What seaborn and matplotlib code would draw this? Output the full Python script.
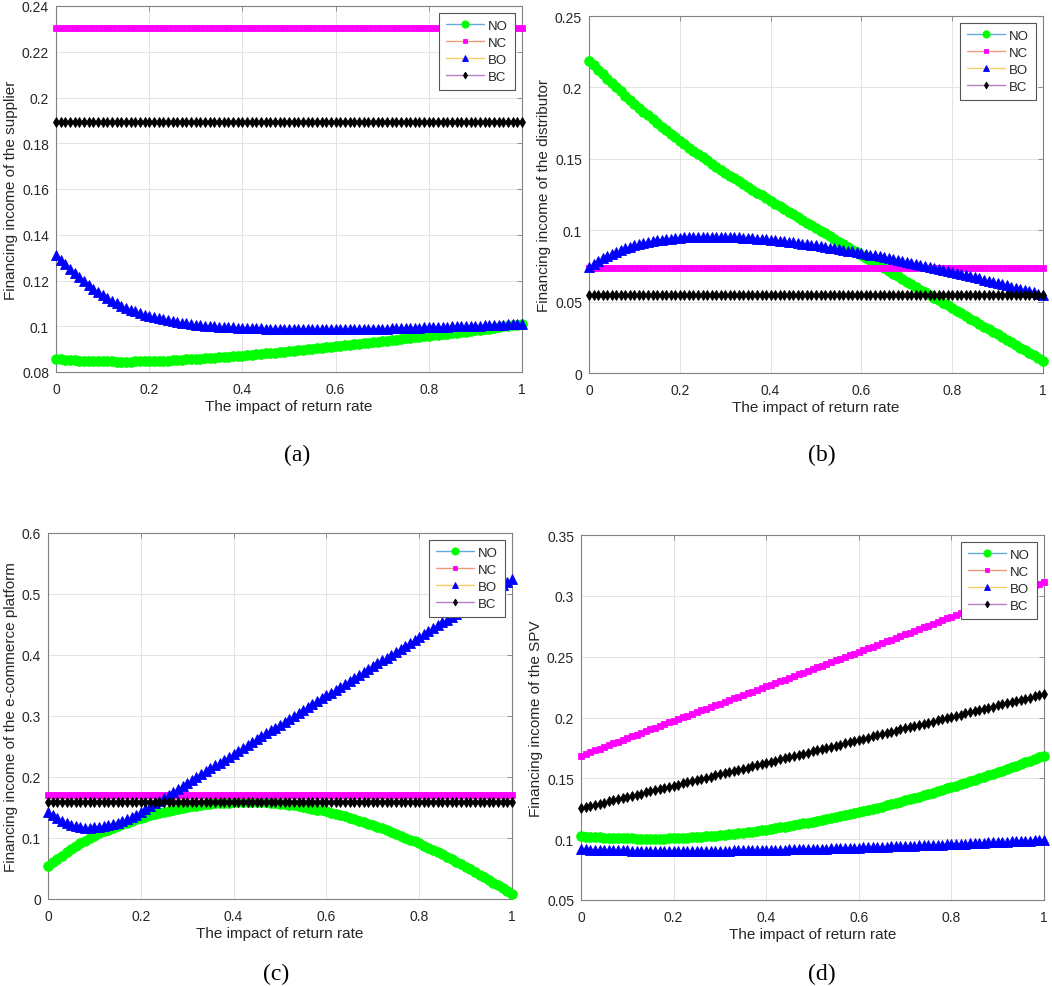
import numpy as np
import matplotlib
matplotlib.use("Agg")
import matplotlib.pyplot as plt
from matplotlib.ticker import FixedLocator, FuncFormatter
import seaborn as sns

# ---------------- data ----------------
x = np.linspace(0, 1, 101)          # impact of return rate, 0.00 ... 1.00
series_labels = ["NO", "NC", "BO", "BC"]
x_ticks = [0, 0.2, 0.4, 0.6, 0.8, 1.0]

# panel (a): supplier
a_NO = [0.0856, 0.0855, 0.0854, 0.0852, 0.0851, 0.0850, 0.0849, 0.0848, 0.0848, 0.0847,
        0.0846, 0.0846, 0.0846, 0.0845, 0.0845, 0.0845, 0.0845, 0.0846, 0.0846, 0.0847,
        0.0847, 0.0848, 0.0849, 0.0849, 0.0850, 0.0851, 0.0852, 0.0853, 0.0855, 0.0856,
        0.0857, 0.0858, 0.0860, 0.0861, 0.0863, 0.0864, 0.0866, 0.0867, 0.0869, 0.0870,
        0.0872, 0.0874, 0.0876, 0.0877, 0.0879, 0.0881, 0.0883, 0.0885, 0.0887, 0.0889,
        0.0891, 0.0893, 0.0895, 0.0897, 0.0899, 0.0901, 0.0903, 0.0905, 0.0908, 0.0910,
        0.0912, 0.0914, 0.0916, 0.0919, 0.0921, 0.0923, 0.0925, 0.0928, 0.0930, 0.0933,
        0.0935, 0.0937, 0.0940, 0.0942, 0.0945, 0.0947, 0.0949, 0.0951, 0.0954, 0.0956,
        0.0958, 0.0960, 0.0963, 0.0965, 0.0968, 0.0970, 0.0972, 0.0975, 0.0977, 0.0980,
        0.0982, 0.0985, 0.0988, 0.0990, 0.0993, 0.0996, 0.0999, 0.1002, 0.1004, 0.1007,
        0.1010]
a_NC = 0.2303
a_BO = [0.1310, 0.1290, 0.1270, 0.1251, 0.1233, 0.1215, 0.1198, 0.1181, 0.1165, 0.1150,
        0.1135, 0.1123, 0.1111, 0.1100, 0.1090, 0.1080, 0.1072, 0.1065, 0.1058, 0.1051,
        0.1045, 0.1040, 0.1035, 0.1031, 0.1026, 0.1022, 0.1019, 0.1016, 0.1013, 0.1010,
        0.1007, 0.1005, 0.1003, 0.1002, 0.1000, 0.0998, 0.0997, 0.0996, 0.0995, 0.0994,
        0.0993, 0.0992, 0.0992, 0.0991, 0.0991, 0.0990, 0.0990, 0.0990, 0.0989, 0.0989,
        0.0988, 0.0988, 0.0988, 0.0988, 0.0987, 0.0987, 0.0987, 0.0987, 0.0987, 0.0987,
        0.0987, 0.0987, 0.0987, 0.0988, 0.0988, 0.0988, 0.0988, 0.0989, 0.0989, 0.0989,
        0.0990, 0.0990, 0.0991, 0.0991, 0.0992, 0.0993, 0.0993, 0.0994, 0.0994, 0.0995,
        0.0996, 0.0996, 0.0997, 0.0997, 0.0998, 0.0999, 0.0999, 0.1000, 0.1001, 0.1001,
        0.1002, 0.1003, 0.1004, 0.1004, 0.1005, 0.1006, 0.1007, 0.1008, 0.1008, 0.1009,
        0.1010]
a_BC = 0.1893

# panel (b): distributor
b_NO = [0.2186, 0.2155, 0.2124, 0.2092, 0.2061, 0.2030, 0.2001, 0.1972, 0.1943, 0.1914,
        0.1885, 0.1858, 0.1831, 0.1804, 0.1777, 0.1750, 0.1725, 0.1700, 0.1675, 0.1650,
        0.1625, 0.1602, 0.1579, 0.1556, 0.1533, 0.1510, 0.1489, 0.1467, 0.1446, 0.1424,
        0.1403, 0.1383, 0.1363, 0.1342, 0.1322, 0.1302, 0.1283, 0.1263, 0.1244, 0.1224,
        0.1205, 0.1186, 0.1167, 0.1148, 0.1129, 0.1110, 0.1091, 0.1072, 0.1053, 0.1034,
        0.1015, 0.0996, 0.0977, 0.0958, 0.0939, 0.0920, 0.0901, 0.0882, 0.0864, 0.0845,
        0.0826, 0.0807, 0.0789, 0.0770, 0.0752, 0.0733, 0.0714, 0.0696, 0.0677, 0.0659,
        0.0640, 0.0621, 0.0603, 0.0584, 0.0566, 0.0547, 0.0528, 0.0510, 0.0491, 0.0473,
        0.0454, 0.0436, 0.0417, 0.0399, 0.0380, 0.0362, 0.0344, 0.0325, 0.0307, 0.0288,
        0.0270, 0.0252, 0.0233, 0.0215, 0.0196, 0.0178, 0.0160, 0.0141, 0.0123, 0.0104,
        0.0086]
b_NC = 0.0737
b_BO = [0.0745, 0.0766, 0.0786, 0.0803, 0.0820, 0.0835, 0.0848, 0.0861, 0.0872, 0.0883,
        0.0893, 0.0901, 0.0909, 0.0916, 0.0922, 0.0928, 0.0932, 0.0936, 0.0940, 0.0944,
        0.0947, 0.0949, 0.0951, 0.0953, 0.0954, 0.0955, 0.0955, 0.0955, 0.0955, 0.0954,
        0.0954, 0.0953, 0.0951, 0.0950, 0.0948, 0.0946, 0.0944, 0.0941, 0.0939, 0.0936,
        0.0933, 0.0929, 0.0925, 0.0922, 0.0918, 0.0914, 0.0910, 0.0906, 0.0902, 0.0897,
        0.0893, 0.0888, 0.0883, 0.0878, 0.0873, 0.0868, 0.0863, 0.0857, 0.0852, 0.0846,
        0.0841, 0.0835, 0.0829, 0.0824, 0.0818, 0.0812, 0.0806, 0.0799, 0.0793, 0.0786,
        0.0780, 0.0773, 0.0766, 0.0759, 0.0752, 0.0745, 0.0738, 0.0731, 0.0723, 0.0716,
        0.0709, 0.0701, 0.0693, 0.0686, 0.0678, 0.0670, 0.0662, 0.0654, 0.0646, 0.0638,
        0.0630, 0.0622, 0.0614, 0.0605, 0.0597, 0.0589, 0.0581, 0.0573, 0.0564, 0.0556,
        0.0548]
b_BC = 0.0547

# panel (c): e-commerce platform
c_NO = [0.0540, 0.0600, 0.0657, 0.0713, 0.0767, 0.0820, 0.0867, 0.0913, 0.0957, 0.0999,
        0.1040, 0.1074, 0.1107, 0.1139, 0.1170, 0.1200, 0.1227, 0.1253, 0.1279, 0.1305,
        0.1330, 0.1351, 0.1371, 0.1391, 0.1411, 0.1430, 0.1447, 0.1463, 0.1479, 0.1495,
        0.1510, 0.1521, 0.1531, 0.1541, 0.1551, 0.1560, 0.1566, 0.1571, 0.1576, 0.1581,
        0.1585, 0.1587, 0.1588, 0.1589, 0.1590, 0.1590, 0.1587, 0.1583, 0.1578, 0.1572,
        0.1565, 0.1556, 0.1546, 0.1535, 0.1523, 0.1510, 0.1496, 0.1481, 0.1466, 0.1451,
        0.1435, 0.1416, 0.1396, 0.1375, 0.1353, 0.1330, 0.1307, 0.1283, 0.1259, 0.1235,
        0.1210, 0.1183, 0.1156, 0.1128, 0.1099, 0.1070, 0.1039, 0.1007, 0.0975, 0.0943,
        0.0910, 0.0875, 0.0840, 0.0803, 0.0767, 0.0730, 0.0691, 0.0651, 0.0611, 0.0571,
        0.0530, 0.0487, 0.0443, 0.0399, 0.0355, 0.0310, 0.0266, 0.0222, 0.0178, 0.0134,
        0.0090]
c_NC = 0.1705
c_BO = [0.1430, 0.1373, 0.1322, 0.1279, 0.1243, 0.1214, 0.1193, 0.1178, 0.1171, 0.1171,
        0.1174, 0.1182, 0.1194, 0.1209, 0.1228, 0.1251, 0.1278, 0.1309, 0.1343, 0.1382,
        0.1424, 0.1470, 0.1518, 0.1566, 0.1614, 0.1662, 0.1710, 0.1758, 0.1806, 0.1854,
        0.1902, 0.1950, 0.1998, 0.2045, 0.2093, 0.2141, 0.2189, 0.2237, 0.2285, 0.2332,
        0.2380, 0.2428, 0.2476, 0.2524, 0.2572, 0.2619, 0.2667, 0.2715, 0.2763, 0.2811,
        0.2859, 0.2906, 0.2954, 0.3002, 0.3050, 0.3098, 0.3146, 0.3193, 0.3241, 0.3289,
        0.3337, 0.3385, 0.3433, 0.3480, 0.3528, 0.3576, 0.3624, 0.3672, 0.3720, 0.3767,
        0.3815, 0.3863, 0.3911, 0.3959, 0.4007, 0.4054, 0.4102, 0.4150, 0.4198, 0.4246,
        0.4294, 0.4341, 0.4389, 0.4437, 0.4485, 0.4533, 0.4581, 0.4628, 0.4676, 0.4724,
        0.4772, 0.4820, 0.4868, 0.4915, 0.4963, 0.5011, 0.5059, 0.5107, 0.5155, 0.5202,
        0.5250]
c_BC = 0.1585

# panel (d): SPV
d_NO = [0.1022, 0.1020, 0.1018, 0.1017, 0.1015, 0.1013, 0.1012, 0.1011, 0.1009, 0.1008,
        0.1007, 0.1006, 0.1005, 0.1005, 0.1004, 0.1004, 0.1004, 0.1005, 0.1005, 0.1006,
        0.1007, 0.1009, 0.1011, 0.1012, 0.1014, 0.1016, 0.1019, 0.1022, 0.1026, 0.1029,
        0.1032, 0.1036, 0.1040, 0.1045, 0.1049, 0.1053, 0.1058, 0.1063, 0.1069, 0.1074,
        0.1079, 0.1085, 0.1091, 0.1097, 0.1103, 0.1109, 0.1116, 0.1123, 0.1129, 0.1136,
        0.1143, 0.1151, 0.1158, 0.1166, 0.1173, 0.1181, 0.1189, 0.1197, 0.1206, 0.1214,
        0.1222, 0.1231, 0.1240, 0.1250, 0.1259, 0.1268, 0.1278, 0.1288, 0.1298, 0.1308,
        0.1318, 0.1329, 0.1340, 0.1350, 0.1361, 0.1372, 0.1383, 0.1394, 0.1406, 0.1417,
        0.1428, 0.1440, 0.1452, 0.1464, 0.1476, 0.1488, 0.1501, 0.1513, 0.1526, 0.1538,
        0.1551, 0.1564, 0.1578, 0.1591, 0.1605, 0.1618, 0.1632, 0.1646, 0.1659, 0.1673,
        0.1687]
d_NC = [0.1685, 0.1700, 0.1714, 0.1729, 0.1743, 0.1758, 0.1772, 0.1787, 0.1801, 0.1816,
        0.1830, 0.1844, 0.1859, 0.1873, 0.1888, 0.1902, 0.1916, 0.1931, 0.1945, 0.1960,
        0.1974, 0.1988, 0.2002, 0.2016, 0.2030, 0.2045, 0.2059, 0.2073, 0.2087, 0.2101,
        0.2115, 0.2129, 0.2143, 0.2157, 0.2171, 0.2185, 0.2199, 0.2213, 0.2227, 0.2241,
        0.2255, 0.2269, 0.2283, 0.2298, 0.2312, 0.2326, 0.2340, 0.2354, 0.2369, 0.2383,
        0.2397, 0.2411, 0.2426, 0.2440, 0.2454, 0.2469, 0.2483, 0.2497, 0.2511, 0.2526,
        0.2540, 0.2554, 0.2569, 0.2583, 0.2597, 0.2612, 0.2626, 0.2640, 0.2654, 0.2669,
        0.2683, 0.2698, 0.2712, 0.2727, 0.2741, 0.2756, 0.2770, 0.2785, 0.2799, 0.2814,
        0.2828, 0.2842, 0.2857, 0.2871, 0.2886, 0.2900, 0.2914, 0.2929, 0.2943, 0.2958,
        0.2972, 0.2986, 0.3001, 0.3015, 0.3029, 0.3044, 0.3058, 0.3072, 0.3086, 0.3101,
        0.3115]
d_BO = [0.0918, 0.0917, 0.0915, 0.0914, 0.0913, 0.0912, 0.0911, 0.0910, 0.0909, 0.0908,
        0.0907, 0.0906, 0.0906, 0.0905, 0.0905, 0.0904, 0.0904, 0.0904, 0.0903, 0.0903,
        0.0903, 0.0903, 0.0903, 0.0903, 0.0904, 0.0904, 0.0904, 0.0904, 0.0905, 0.0905,
        0.0905, 0.0906, 0.0906, 0.0907, 0.0907, 0.0908, 0.0909, 0.0909, 0.0910, 0.0910,
        0.0911, 0.0912, 0.0913, 0.0914, 0.0915, 0.0916, 0.0916, 0.0917, 0.0918, 0.0919,
        0.0920, 0.0921, 0.0922, 0.0923, 0.0924, 0.0926, 0.0927, 0.0928, 0.0929, 0.0930,
        0.0931, 0.0932, 0.0934, 0.0935, 0.0936, 0.0938, 0.0939, 0.0940, 0.0941, 0.0943,
        0.0944, 0.0946, 0.0947, 0.0949, 0.0950, 0.0952, 0.0953, 0.0955, 0.0956, 0.0958,
        0.0959, 0.0961, 0.0962, 0.0964, 0.0966, 0.0968, 0.0969, 0.0971, 0.0973, 0.0974,
        0.0976, 0.0978, 0.0980, 0.0982, 0.0984, 0.0986, 0.0987, 0.0989, 0.0991, 0.0993,
        0.0995]
d_BC = [0.1255, 0.1264, 0.1273, 0.1283, 0.1292, 0.1301, 0.1310, 0.1319, 0.1329, 0.1338,
        0.1347, 0.1356, 0.1366, 0.1375, 0.1384, 0.1394, 0.1403, 0.1412, 0.1421, 0.1431,
        0.1440, 0.1449, 0.1459, 0.1468, 0.1477, 0.1487, 0.1496, 0.1505, 0.1514, 0.1524,
        0.1533, 0.1542, 0.1552, 0.1561, 0.1571, 0.1580, 0.1589, 0.1599, 0.1608, 0.1618,
        0.1627, 0.1636, 0.1646, 0.1655, 0.1665, 0.1674, 0.1683, 0.1693, 0.1702, 0.1712,
        0.1721, 0.1731, 0.1740, 0.1750, 0.1759, 0.1769, 0.1778, 0.1788, 0.1797, 0.1807,
        0.1816, 0.1826, 0.1835, 0.1845, 0.1854, 0.1864, 0.1873, 0.1883, 0.1892, 0.1902,
        0.1911, 0.1920, 0.1930, 0.1939, 0.1949, 0.1958, 0.1967, 0.1977, 0.1986, 0.1996,
        0.2005, 0.2014, 0.2024, 0.2033, 0.2043, 0.2052, 0.2061, 0.2071, 0.2080, 0.2090,
        0.2099, 0.2108, 0.2118, 0.2127, 0.2136, 0.2146, 0.2155, 0.2164, 0.2173, 0.2183,
        0.2192]

y_labels = ["Financing income of the supplier",
            "Financing income of the distributor",
            "Financing income of the e-commerce platform",
            "Financing income of the SPV"]
y_ticks_a = [0.08, 0.10, 0.12, 0.14, 0.16, 0.18, 0.20, 0.22, 0.24]
y_ticks_b = [0, 0.05, 0.10, 0.15, 0.20, 0.25]
y_ticks_c = [0, 0.1, 0.2, 0.3, 0.4, 0.5, 0.6]
y_ticks_d = [0.05, 0.10, 0.15, 0.20, 0.25, 0.30, 0.35]
captions = ["(a)", "(b)", "(c)", "(d)"]
x_label = "The impact of return rate"


def as_series(v):
    """constant series are stored as a single value"""
    if np.isscalar(v):
        return np.full(len(x), v)
    return np.asarray(v)


# ---------------- style ----------------
sns.set_style("white")
plt.rcParams["font.family"] = ["Liberation Sans", "DejaVu Sans"]

line_colors = ["#62abdc", "#f29b7c", "#f3cf6c", "#b77fc0"]
marker_styles = [("o", 7.0, "#00ff00"), ("s", 4.8, "#ff00ff"),
                 ("^", 6.5, "#0000ff"), ("d", 4.6, "#000000")]

W, H = 1052, 987
fig = plt.figure(figsize=(W / 100, H / 100), dpi=100)

# pixel boxes: left, top, right, bottom
boxes = [(56, 7, 522, 373), (589, 17, 1043, 374),
         (48, 534, 512, 900), (581, 536, 1044, 901)]
panels = [
    ([a_NO, a_NC, a_BO, a_BC], (0.08, 0.24), y_ticks_a),
    ([b_NO, b_NC, b_BO, b_BC], (0.0, 0.25), y_ticks_b),
    ([c_NO, c_NC, c_BO, c_BC], (0.0, 0.6), y_ticks_c),
    ([d_NO, d_NC, d_BO, d_BC], (0.05, 0.35), y_ticks_d),
]
caption_pos = [(297, 455), (822, 455), (276, 974), (822, 974)]

fmt = FuncFormatter(lambda v, p: f"{round(v, 4):g}")

for i, (series, ylim, yt) in enumerate(panels):
    l, t, r, b = boxes[i]
    ax = fig.add_axes([l / W, 1 - b / H, (r - l) / W, (b - t) / H])
    for j, vals in enumerate(series):
        m, ms, mc = marker_styles[j]
        sns.lineplot(x=x, y=as_series(vals), ax=ax, color=line_colors[j],
                     linewidth=1.0, marker=m, markersize=ms,
                     markerfacecolor=mc, markeredgecolor=mc,
                     markeredgewidth=0.6, label=series_labels[j],
                     clip_on=False, zorder=3 + j)
    ax.set_xlim(0, 1)
    ax.set_ylim(*ylim)
    ax.xaxis.set_major_locator(FixedLocator(x_ticks))
    ax.yaxis.set_major_locator(FixedLocator(yt))
    ax.xaxis.set_major_formatter(fmt)
    ax.yaxis.set_major_formatter(fmt)
    ax.grid(True, color="#e3e3e3", linewidth=0.7)
    ax.set_axisbelow(True)
    for sp in ax.spines.values():
        sp.set_color("#808080")
        sp.set_linewidth(0.8)
    ax.tick_params(axis="both", direction="in", length=3.5, width=0.6,
                   colors="#808080", labelcolor="#262626", labelsize=10,
                   top=True, right=True)
    ax.tick_params(axis="x", pad=7)
    ax.tick_params(axis="y", pad=5)
    ax.set_xlabel(x_label, fontsize=11, color="#262626", labelpad=2.5)
    ax.set_ylabel(y_labels[i], fontsize=11, color="#262626", labelpad=3)
    leg = ax.legend(loc="upper right", fontsize=9.5, handlelength=2.9,
                    labelspacing=0.36, borderpad=0.5, handletextpad=0.3,
                    borderaxespad=0.55, frameon=True, fancybox=False,
                    edgecolor="#555555", framealpha=1.0, numpoints=1,
                    markerscale=0.75)
    leg.get_frame().set_linewidth(0.8)
    leg.set_zorder(20)
    cx, cy = caption_pos[i]
    fig.text(cx / W, 1 - cy / H, captions[i], family="Liberation Serif",
             fontsize=17, ha="center", va="center", color="#000000")

fig.savefig("out.png", dpi=100)
